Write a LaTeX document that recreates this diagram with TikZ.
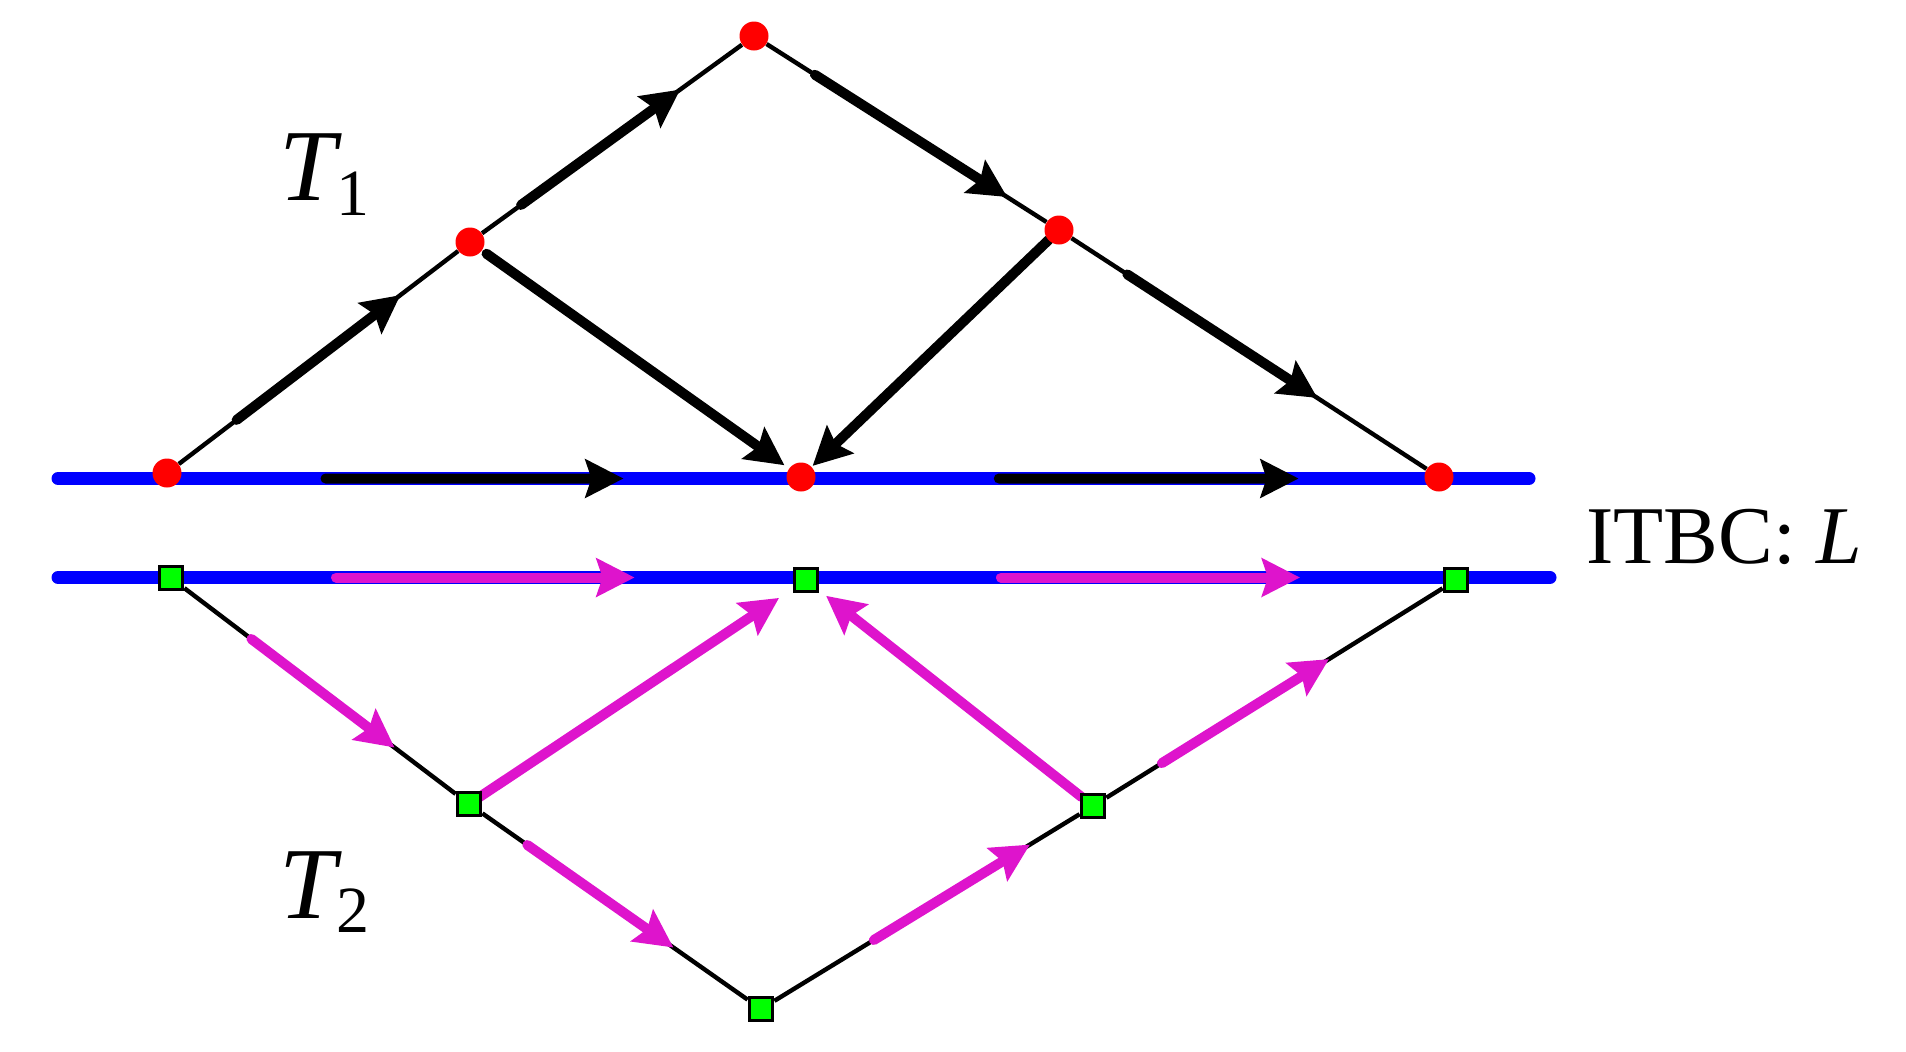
\documentclass[tikz,border=0pt]{standalone}
\usepackage{fontspec}
\setmainfont{Liberation Serif}
\usetikzlibrary{arrows.meta,calc,backgrounds}
\definecolor{mag}{RGB}{222,20,204}
\definecolor{bl}{RGB}{0,0,255}
\begin{document}
\begin{tikzpicture}[x=0.5pt,y=-0.5pt,
  thinedge/.style={line width=2.2pt, black},
  tharrow/.style={line width=5pt, line cap=round, -{Stealth[length=19pt,width=19pt,inset=3pt]}},
  blackarr/.style={tharrow, black},
  magarr/.style={tharrow, mag},
  bluline/.style={line width=6.5pt, bl, line cap=round},
  rdot/.style={circle, fill=red, inner sep=0pt, minimum size=14.5pt},
  gsq/.style={rectangle, draw=black, line width=1.6pt, fill=green, inner sep=0pt, minimum size=11.8pt},
  lbl/.style={inner sep=0pt, anchor=base west}]
\useasboundingbox (0,0) rectangle (1906,1051);

% nodes T1
\node[rdot] (A) at (167,473) {};
\node[rdot] (B) at (470,242) {};
\node[rdot] (C) at (754,36) {};
\node[rdot] (D) at (801,477) {};
\node[rdot] (E) at (1059,230) {};
\node[rdot] (F) at (1439,477) {};
% nodes T2
\node[gsq] (G1) at (171,578) {};
\node[gsq] (G2) at (806,580) {};
\node[gsq] (G3) at (1456,580) {};
\node[gsq] (G4) at (469,804) {};
\node[gsq] (G5) at (1093,806) {};
\node[gsq] (G6) at (761,1009) {};

\coordinate (L1s) at (58,478.5);
\coordinate (L1e) at (1529,478.5);
\coordinate (L2s) at (58,577.5);
\coordinate (L2e) at (1550,577.5);

\begin{scope}[on background layer]
  \draw[bluline] (L1s) -- (L1e);
  \draw[bluline] (L2s) -- (L2e);
  % thin connectors
  \draw[thinedge] (A) -- (B);
  \draw[thinedge] (B) -- (C);
  \draw[thinedge] (C) -- (E);
  \draw[thinedge] (E) -- (F);
  \draw[thinedge] (G1) -- (G4);
  \draw[thinedge] (G4) -- (G6);
  \draw[thinedge] (G6) -- (G5);
  \draw[thinedge] (G5) -- (G3);
  % thick arrows T1
  \draw[blackarr] ($(A)!0.23!(B)$) -- ($(A)!0.77!(B)$);
  \draw[blackarr] ($(B)!0.18!(C)$) -- ($(B)!0.74!(C)$);
  \draw[blackarr] ($(C)!0.20!(E)$) -- ($(C)!0.83!(E)$);
  \draw[blackarr] ($(E)!0.18!(F)$) -- ($(E)!0.68!(F)$);
  \draw[blackarr] ($(B)!0.05!(D)$) -- ($(B)!0.95!(D)$);
  \draw[blackarr] ($(E)!0.04!(D)$) -- ($(E)!0.955!(D)$);
  \draw[blackarr] ($(A|-L1s)!0.25!(D|-L1s)$) -- ($(A|-L1s)!0.72!(D|-L1s)$);
  \draw[blackarr] ($(D|-L1s)!0.31!(F|-L1s)$) -- ($(D|-L1s)!0.78!(F|-L1s)$);
  % thick arrows T2
  \draw[magarr] ($(G1)!0.27!(G4)$) -- ($(G1)!0.75!(G4)$);
  \draw[magarr] ($(G4)!0.03!(G2)$) -- ($(G4)!0.92!(G2)$);
  \draw[magarr] ($(G4)!0.20!(G6)$) -- ($(G4)!0.70!(G6)$);
  \draw[magarr] ($(G6)!0.34!(G5)$) -- ($(G6)!0.81!(G5)$);
  \draw[magarr] ($(G5)!0.04!(G2)$) -- ($(G5)!0.93!(G2)$);
  \draw[magarr] ($(G5)!0.19!(G3)$) -- ($(G5)!0.65!(G3)$);
  \draw[magarr] ($(G1|-L2s)!0.26!(G2|-L2s)$) -- ($(G1|-L2s)!0.73!(G2|-L2s)$);
  \draw[magarr] ($(G2|-L2s)!0.30!(G3|-L2s)$) -- ($(G2|-L2s)!0.76!(G3|-L2s)$);
\end{scope}

% labels
\node[lbl] (T1) at (279,200) {\fontsize{51}{56}\selectfont\itshape T\raisebox{-7.5pt}{\fontsize{33}{36}\selectfont\upshape 1}};
\node[lbl] (T2) at (279,918) {\fontsize{51}{56}\selectfont\itshape T\raisebox{-7pt}{\fontsize{33}{36}\selectfont\upshape 2}};
\node[lbl] (itbc) at (1586,563) {\fontsize{41}{46}\selectfont ITBC: \textit{L}};
\end{tikzpicture}
\end{document}
